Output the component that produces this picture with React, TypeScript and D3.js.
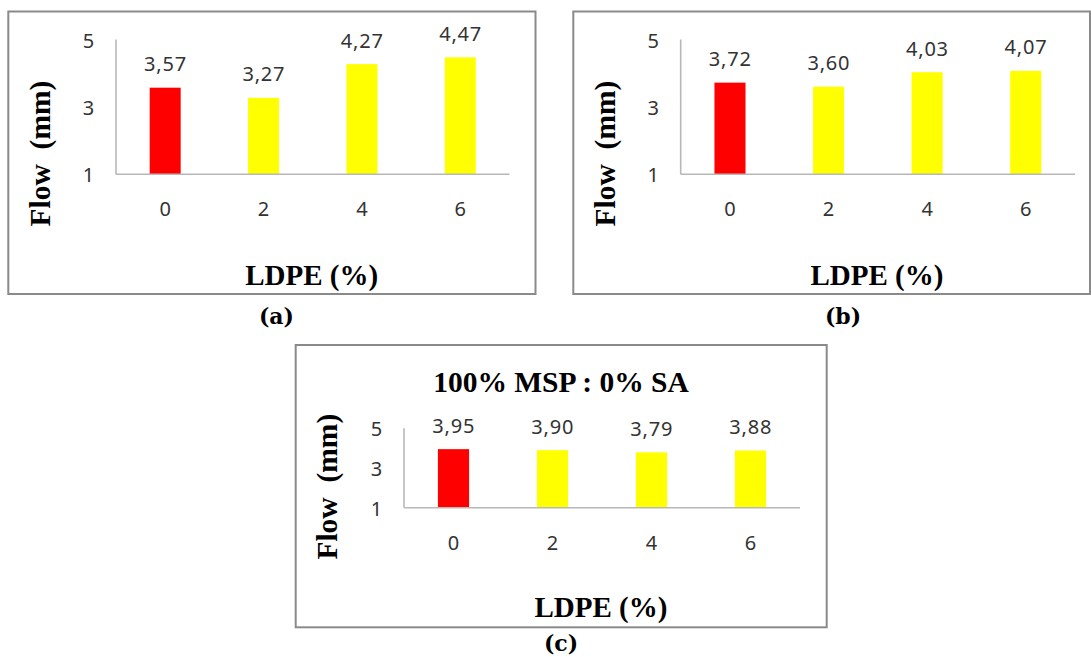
import React from "react";
import * as d3 from "d3";

// ---- data ----
const categories = ["0", "2", "4", "6"];
const valuesA = [3.57, 3.27, 4.27, 4.47];
const valuesB = [3.72, 3.6, 4.03, 4.07];
const valuesC = [3.95, 3.9, 3.79, 3.88];
const yTicks = [1, 3, 5];
const yDomain: [number, number] = [1, 5];
const barColors = ["#FF0000", "#FFFF00", "#FFFF00", "#FFFF00"];
const panelLabels = ["(a)", "(b)", "(c)"];
const xTitle = "LDPE (%)";
const yTitle = "Flow  (mm)";
const titleC = "100% MSP : 0% SA";

const fmt = (v: number) => v.toFixed(2).replace(".", ",");

type Layout = {
  box: [number, number, number, number];
  plot: { left: number; right: number; top: number; bottom: number };
  yTitlePos: [number, number];
  xTitleY: number;
  label: [number, number];
  title?: [number, number];
};

const layouts: Layout[] = [
  {
    box: [8.3, 11.5, 535.5, 294],
    plot: { left: 116, right: 509.5, top: 39.5, bottom: 174.3 },
    yTitlePos: [50, 153.5],
    xTitleY: 285,
    label: [276.5, 324],
  },
  {
    box: [573.3, 11.5, 1090, 294],
    plot: { left: 680.7, right: 1075, top: 39.5, bottom: 174.3 },
    yTitlePos: [615, 153.5],
    xTitleY: 285,
    label: [843, 324],
  },
  {
    box: [295.7, 345, 826.7, 627.3],
    plot: { left: 404, right: 800, top: 428.3, bottom: 507.7 },
    yTitlePos: [336.7, 486.7],
    xTitleY: 617.3,
    label: [561, 651],
    title: [561, 391.7],
  },
];

const serif = "'Liberation Serif', 'Times New Roman', serif";
const sans = "'Noto Sans', 'Open Sans', sans-serif";
const numSize = 20;
const numColor = "#333333";

function Panel({ values, layout, label, title }: { values: number[]; layout: Layout; label: string; title?: string }) {
  const { plot, box } = layout;
  const x = d3
    .scaleBand<string>()
    .domain(categories)
    .range([plot.left, plot.right])
    .paddingInner(0.685)
    .paddingOuter(0.3425);
  const y = d3.scaleLinear().domain(yDomain).range([plot.bottom, plot.top]);
  const cx = (plot.left + plot.right) / 2;
  return (
    <g>
      <rect
        x={box[0]}
        y={box[1]}
        width={box[2] - box[0]}
        height={box[3] - box[1]}
        fill="#ffffff"
        stroke="#8a8a8a"
        strokeWidth={2}
      />
      {title && layout.title && (
        <text
          x={layout.title[0]}
          y={layout.title[1]}
          textAnchor="middle"
          fontFamily={serif}
          fontWeight="bold"
          fontSize={29.5}
          fill="#000"
          style={{ whiteSpace: "pre" }}
        >
          {title}
        </text>
      )}
      {categories.map((c, i) => (
        <rect
          key={c}
          x={x(c)}
          y={y(values[i])}
          width={x.bandwidth()}
          height={y(yDomain[0]) - y(values[i])}
          fill={barColors[i]}
        />
      ))}
      <line x1={plot.left} x2={plot.left} y1={plot.top} y2={plot.bottom} stroke="#b8b8b8" strokeWidth={1.6} />
      <line x1={plot.left} x2={plot.right} y1={plot.bottom} y2={plot.bottom} stroke="#b8b8b8" strokeWidth={1.6} />
      {yTicks.map((t) => (
        <text
          key={t}
          x={plot.left - 21.7}
          y={y(t) + 8}
          textAnchor="end"
          fontFamily={sans}
          fontSize={numSize}
          fill={numColor}
        >
          {t}
        </text>
      ))}
      {categories.map((c) => (
        <text
          key={c}
          x={(x(c) as number) + x.bandwidth() / 2}
          y={plot.bottom + 42}
          textAnchor="middle"
          fontFamily={sans}
          fontSize={numSize}
          fill={numColor}
        >
          {c}
        </text>
      ))}
      {categories.map((c, i) => (
        <text
          key={c}
          x={(x(c) as number) + x.bandwidth() / 2 + 0.3}
          y={y(values[i]) - 16.5}
          textAnchor="middle"
          fontFamily={sans}
          fontSize={numSize}
          letterSpacing={0.8}
          fill={numColor}
        >
          {fmt(values[i])}
        </text>
      ))}
      <text
        transform={`translate(${layout.yTitlePos[0]},${layout.yTitlePos[1]}) rotate(-90)`}
        textAnchor="middle"
        fontFamily={serif}
        fontWeight="bold"
        fontSize={29.5}
        fill="#000"
        style={{ whiteSpace: "pre" }}
      >
        {yTitle}
      </text>
      <text
        x={cx - 1}
        y={layout.xTitleY}
        textAnchor="middle"
        fontFamily={serif}
        fontWeight="bold"
        fontSize={29}
        fill="#000"
      >
        {xTitle}
      </text>
      <text
        x={layout.label[0]}
        y={layout.label[1]}
        textAnchor="middle"
        fontFamily="'DejaVu Serif', serif"
        fontWeight="bold"
        fontSize={22}
        fill="#000"
      >
        {label}
      </text>
    </g>
  );
}

export default function App() {
  const data = [valuesA, valuesB, valuesC];
  return (
    <svg
      width={1091}
      height={657}
      style={{ position: "absolute", left: 0, top: 0, background: "#fff" }}
    >
      <rect x={0} y={0} width={1091} height={657} fill="#fff" />
      {data.map((vals, i) => (
        <Panel
          key={i}
          values={vals}
          layout={layouts[i]}
          label={panelLabels[i]}
          title={i === 2 ? titleC : undefined}
        />
      ))}
    </svg>
  );
}
